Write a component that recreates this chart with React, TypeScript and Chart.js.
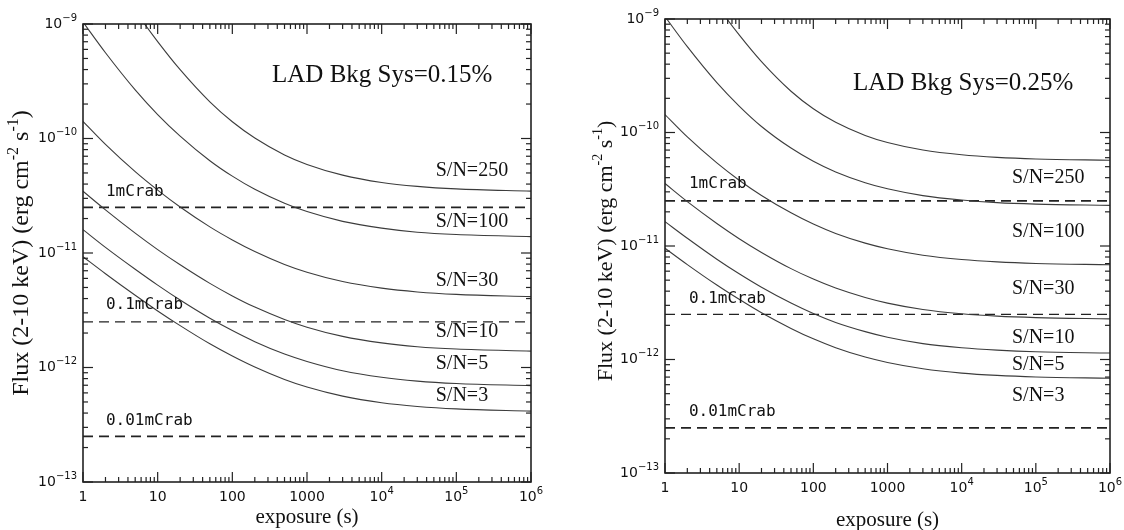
import React, { useEffect, useRef } from "react";
import { Chart, registerables } from "chart.js";

Chart.register(...registerables);

// ---------------- data ----------------
const exposure = [1, 2, 5, 10, 20, 50, 100, 200, 500, 1000, 3000, 1e4, 3e4, 1e5, 1e6];
const snLabels = ["S/N=3", "S/N=5", "S/N=10", "S/N=30", "S/N=100", "S/N=250"];

// LAD Bkg Sys = 0.15%
const sys015_sn3 = [9.28e-12, 6.59e-12, 4.27e-12, 3.12e-12, 2.32e-12, 1.61e-12, 1.26e-12, 1.01e-12, 7.86e-13, 6.75e-13, 5.62e-13, 4.92e-13, 4.57e-13, 4.35e-13, 4.16e-13];
const sys015_sn5 = [1.6e-11, 1.12e-11, 7.21e-12, 5.24e-12, 3.88e-12, 2.69e-12, 2.1e-12, 1.68e-12, 1.31e-12, 1.13e-12, 9.37e-13, 8.21e-13, 7.61e-13, 7.25e-13, 6.94e-13];
const sys015_sn10 = [3.46e-11, 2.38e-11, 1.49e-11, 1.07e-11, 7.89e-12, 5.43e-12, 4.22e-12, 3.37e-12, 2.63e-12, 2.25e-12, 1.87e-12, 1.64e-12, 1.52e-12, 1.45e-12, 1.39e-12];
const sys015_sn30 = [1.41e-10, 8.88e-11, 5.13e-11, 3.54e-11, 2.52e-11, 1.69e-11, 1.3e-11, 1.03e-11, 7.94e-12, 6.79e-12, 5.63e-12, 4.93e-12, 4.57e-12, 4.35e-12, 4.16e-12];
const sys015_sn100 = [1.04e-9, 5.61e-10, 2.66e-10, 1.62e-10, 1.05e-10, 6.4e-11, 4.69e-11, 3.6e-11, 2.72e-11, 2.3e-11, 1.89e-11, 1.65e-11, 1.52e-11, 1.45e-11, 1.39e-11];
const sys015_sn250 = [6.05e-9, 3.08e-9, 1.3e-9, 7.02e-10, 3.99e-10, 2.09e-10, 1.4e-10, 1.01e-10, 7.19e-11, 5.94e-11, 4.79e-11, 4.13e-11, 3.82e-11, 3.63e-11, 3.47e-11];

// LAD Bkg Sys = 0.25%
const sys025_sn3 = [9.55e-12, 6.86e-12, 4.53e-12, 3.39e-12, 2.58e-12, 1.88e-12, 1.52e-12, 1.27e-12, 1.05e-12, 9.42e-13, 8.29e-13, 7.59e-13, 7.24e-13, 7.02e-13, 6.83e-13];
const sys025_sn5 = [1.64e-11, 1.17e-11, 7.65e-12, 5.69e-12, 4.33e-12, 3.14e-12, 2.54e-12, 2.12e-12, 1.76e-12, 1.57e-12, 1.38e-12, 1.27e-12, 1.21e-12, 1.17e-12, 1.14e-12];
const sys025_sn10 = [3.55e-11, 2.46e-11, 1.58e-11, 1.16e-11, 8.78e-12, 6.32e-12, 5.11e-12, 4.26e-12, 3.52e-12, 3.14e-12, 2.76e-12, 2.53e-12, 2.41e-12, 2.34e-12, 2.28e-12];
const sys025_sn30 = [1.44e-10, 9.15e-11, 5.4e-11, 3.8e-11, 2.79e-11, 1.96e-11, 1.56e-11, 1.29e-11, 1.06e-11, 9.46e-12, 8.3e-12, 7.6e-12, 7.24e-12, 7.02e-12, 6.83e-12];
const sys025_sn100 = [1.05e-9, 5.7e-10, 2.75e-10, 1.71e-10, 1.13e-10, 7.29e-11, 5.58e-11, 4.49e-11, 3.61e-11, 3.19e-11, 2.78e-11, 2.54e-11, 2.41e-11, 2.34e-11, 2.28e-11];
const sys025_sn250 = [6.08e-9, 3.11e-9, 1.32e-9, 7.24e-10, 4.21e-10, 2.31e-10, 1.62e-10, 1.23e-10, 9.42e-11, 8.16e-11, 7.01e-11, 6.36e-11, 6.04e-11, 5.85e-11, 5.7e-11];

const crabLevels = [2.5e-11, 2.5e-12, 2.5e-13];
const crabLabels = ["1mCrab", "0.1mCrab", "0.01mCrab"];
const crabWidths = [1.8, 1.2, 1.8];

const xTickValues = [1, 10, 100, 1000, 1e4, 1e5, 1e6];
const xTickBase = ["1", "10", "100", "1000", "10", "10", "10"];
const xTickExp = ["", "", "", "", "4", "5", "6"];
const yTickValues = [1e-13, 1e-12, 1e-11, 1e-10, 1e-9];
const yTickExp = ["\u221213", "\u221212", "\u221211", "\u221210", "\u22129"];

// ---------------- panel layout ----------------
type Panel = {
  offsetLeft: number;
  title: string;
  series: number[][];
  padding: { left: number; top: number; right: number; bottom: number };
  titlePos: [number, number];
  labelX: number;
  labelY: number[];
  crabX: number;
  crabY: number[];
  yTitleDX: number;
  yTitleCY: number;
  yTitleSize: number;
  xTitleDY: number;
};

const panels: Panel[] = [
  {
    offsetLeft: 0,
    title: "LAD Bkg Sys=0.15%",
    series: [sys015_sn3, sys015_sn5, sys015_sn10, sys015_sn30, sys015_sn100, sys015_sn250],
    padding: { left: 83, top: 24, right: 31, bottom: 48 },
    titlePos: [340, 3.52e-10],
    labelX: 5.3e4,
    labelY: [5.68e-13, 1.07e-12, 2.06e-12, 5.69e-12, 1.87e-11, 5.2e-11],
    crabX: 2.03,
    crabY: [3.41e-11, 3.52e-12, 3.41e-13],
    yTitleDX: -61,
    yTitleCY: 253,
    yTitleSize: 24,
    xTitleDY: 35,
  },
  {
    offsetLeft: 562,
    title: "LAD Bkg Sys=0.25%",
    series: [sys025_sn3, sys025_sn5, sys025_sn10, sys025_sn30, sys025_sn100, sys025_sn250],
    padding: { left: 103, top: 19, right: 14, bottom: 57 },
    titlePos: [343, 2.73e-10],
    labelX: 4.77e4,
    labelY: [4.77e-13, 9.08e-13, 1.55e-12, 4.18e-12, 1.34e-11, 3.97e-11],
    crabX: 2.1,
    crabY: [3.52e-11, 3.41e-12, 3.44e-13],
    yTitleDX: -59,
    yTitleCY: 251,
    yTitleSize: 22,
    xTitleDY: 47,
  },
];

type Part = { t: string; sup?: boolean };

function drawRich(
  ctx: CanvasRenderingContext2D,
  parts: Part[],
  x: number,
  y: number,
  align: "left" | "center" | "right",
  baseFont: string,
  supFont: string,
  rise: number
) {
  let w = 0;
  const ws: number[] = [];
  for (const p of parts) {
    ctx.font = p.sup ? supFont : baseFont;
    const m = ctx.measureText(p.t).width;
    ws.push(m);
    w += m;
  }
  let cx = align === "left" ? x : align === "center" ? x - w / 2 : x - w;
  ctx.textAlign = "left";
  ctx.textBaseline = "middle";
  parts.forEach((p, i) => {
    ctx.font = p.sup ? supFont : baseFont;
    ctx.fillText(p.t, cx, p.sup ? y - rise : y);
    cx += ws[i];
  });
}

function makePlugin(panel: Panel) {
  return {
    id: "frameAndText",
    afterDraw(chart: any) {
      const ctx: CanvasRenderingContext2D = chart.ctx;
      const { left, right, top, bottom } = chart.chartArea;
      const xs = chart.scales.x;
      const ys = chart.scales.y;
      ctx.save();
      // frame
      ctx.strokeStyle = "#222";
      ctx.lineWidth = 1.6;
      ctx.strokeRect(left, top, right - left, bottom - top);
      // ticks
      ctx.lineWidth = 1.2;
      const tick = (x1: number, y1: number, x2: number, y2: number) => {
        ctx.beginPath();
        ctx.moveTo(x1, y1);
        ctx.lineTo(x2, y2);
        ctx.stroke();
      };
      for (let k = 0; k <= 6; k++) {
        for (let m = 1; m <= 9; m++) {
          if (k === 6 && m > 1) break;
          const v = m * Math.pow(10, k);
          const px = xs.getPixelForValue(v);
          const len = m === 1 ? 10 : 5;
          tick(px, bottom, px, bottom - len);
          tick(px, top, px, top + len);
        }
      }
      for (let k = -13; k <= -9; k++) {
        for (let m = 1; m <= 9; m++) {
          if (k === -9 && m > 1) break;
          const v = m * Math.pow(10, k);
          const py = ys.getPixelForValue(v);
          const len = m === 1 ? 10 : 5;
          tick(left, py, left + len, py);
          tick(right, py, right - len, py);
        }
      }
      ctx.fillStyle = "#111";
      // tick labels
      const tf = '14px "DejaVu Sans"';
      const tsf = '10px "DejaVu Sans"';
      xTickValues.forEach((v, i) => {
        const px = xs.getPixelForValue(v);
        const parts: Part[] = [{ t: xTickBase[i] }];
        if (xTickExp[i]) parts.push({ t: xTickExp[i], sup: true });
        drawRich(ctx, parts, px, bottom + 15, "center", tf, tsf, 6);
      });
      yTickValues.forEach((v, i) => {
        const py = ys.getPixelForValue(v);
        drawRich(ctx, [{ t: "10" }, { t: yTickExp[i], sup: true }], left - 6, py, "right", tf, tsf, 6);
      });
      // axis titles
      const ys2 = panel.yTitleSize;
      const af = `${ys2}px "Liberation Serif"`;
      const asf = `${Math.round(ys2 * 0.65)}px "Liberation Serif"`;
      drawRich(ctx, [{ t: "exposure (s)" }], (left + right) / 2, bottom + panel.xTitleDY, "center", '21px "Liberation Serif"', asf, 7);
      ctx.save();
      ctx.translate(left + panel.yTitleDX, panel.yTitleCY);
      ctx.rotate(-Math.PI / 2);
      drawRich(
        ctx,
        [
          { t: "Flux (2-10 keV) (erg cm" },
          { t: "-2", sup: true },
          { t: " s" },
          { t: "-1", sup: true },
          { t: ")" },
        ],
        0,
        0,
        "center",
        af,
        asf,
        Math.round(ys2 * 0.35)
      );
      ctx.restore();
      // panel title
      drawRich(
        ctx,
        [{ t: panel.title }],
        xs.getPixelForValue(panel.titlePos[0]),
        ys.getPixelForValue(panel.titlePos[1]),
        "left",
        '25px "Liberation Serif"',
        asf,
        0
      );
      // S/N labels
      snLabels.forEach((lab, i) => {
        drawRich(
          ctx,
          [{ t: lab }],
          xs.getPixelForValue(panel.labelX),
          ys.getPixelForValue(panel.labelY[i]),
          "left",
          '20px "Liberation Serif"',
          asf,
          0
        );
      });
      // crab labels
      crabLabels.forEach((lab, i) => {
        drawRich(
          ctx,
          [{ t: lab }],
          xs.getPixelForValue(panel.crabX),
          ys.getPixelForValue(panel.crabY[i]),
          "left",
          '16px "DejaVu Sans Mono"',
          asf,
          0
        );
      });
      ctx.restore();
    },
  };
}

function PanelChart({ panel }: { panel: Panel }) {
  const ref = useRef<HTMLCanvasElement>(null);
  useEffect(() => {
    const canvas = ref.current;
    if (!canvas) return;
    const curveSets = panel.series.map((vals, i) => ({
      label: snLabels[i],
      data: exposure.map((x, j) => ({ x, y: vals[j] })),
      borderColor: "#3c3c3c",
      borderWidth: 1.1,
      pointRadius: 0,
      fill: false,
      cubicInterpolationMode: "monotone" as const,
    }));
    const crabSets = crabLevels.map((v, i) => ({
      label: crabLabels[i],
      data: [
        { x: 1, y: v },
        { x: 1e6, y: v },
      ],
      borderColor: "#222",
      borderWidth: crabWidths[i],
      borderDash: [10, 6],
      pointRadius: 0,
      fill: false,
    }));
    const chart = new Chart(canvas, {
      type: "line",
      data: { datasets: [...curveSets, ...crabSets] as any },
      options: {
        responsive: false,
        animation: false,
        events: [],
        layout: { padding: panel.padding },
        plugins: { legend: { display: false }, tooltip: { enabled: false } },
        scales: {
          x: { type: "logarithmic", min: 1, max: 1e6, display: false },
          y: { type: "logarithmic", min: 1e-13, max: 1e-9, display: false },
        },
      },
      plugins: [makePlugin(panel)],
    });
    return () => chart.destroy();
  }, [panel]);
  return (
    <canvas
      ref={ref}
      width={562}
      height={530}
      style={{ position: "absolute", left: panel.offsetLeft, top: 0, width: 562, height: 530 }}
    />
  );
}

export default function App() {
  return (
    <div style={{ position: "fixed", left: 0, top: 0, width: 1124, height: 530, background: "#fff" }}>
      {panels.map((p, i) => (
        <PanelChart key={i} panel={p} />
      ))}
    </div>
  );
}
